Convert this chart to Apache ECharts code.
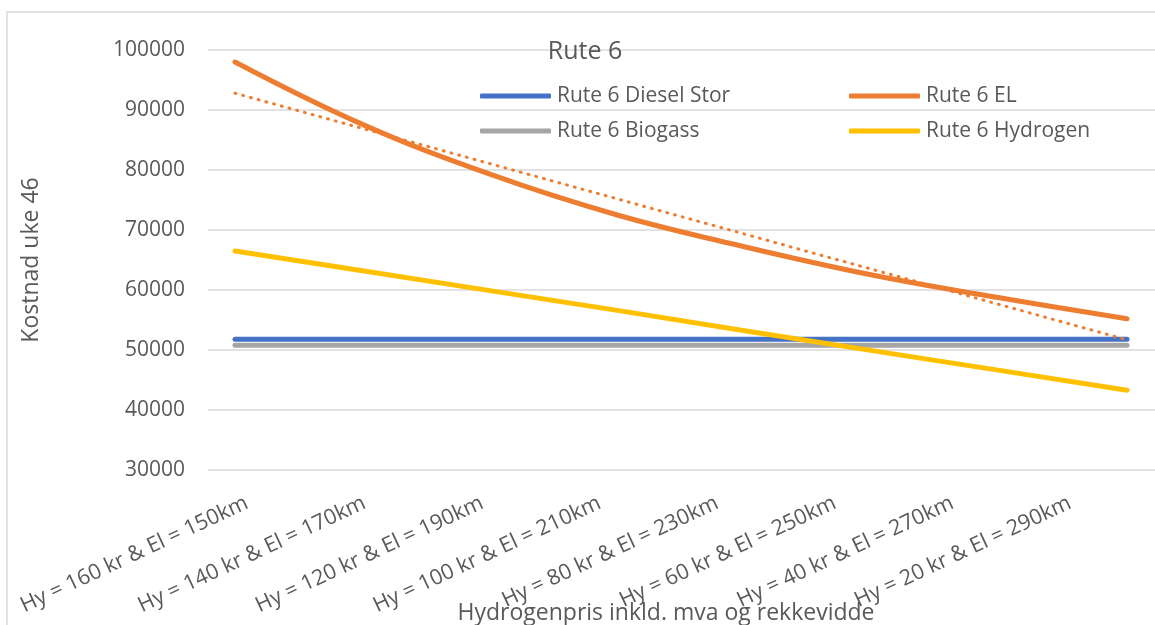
<!DOCTYPE html>
<html>
<head>
<meta charset="utf-8">
<script src="https://cdn.jsdelivr.net/npm/echarts@6/dist/echarts.min.js"></script>
<style>
  html, body { margin: 0; padding: 0; background: #ffffff; }
  #chart { width: 1155px; height: 625px; }
</style>
</head>
<body>
<div id="chart"></div>
<script>
// Scenario labels along the category axis
const categories = [
  'Hy = 160 kr & El = 150km',
  'Hy = 140 kr & El = 170km',
  'Hy = 120 kr & El = 190km',
  'Hy = 100 kr & El = 210km',
  'Hy = 80 kr & El = 230km',
  'Hy = 60 kr & El = 250km',
  'Hy = 40 kr & El = 270km',
  'Hy = 20 kr & El = 290km'
];

// Weekly cost per scenario (week 46)
const dieselStor = [51800, 51800, 51800, 51800, 51800, 51800, 51800, 51800];
const el         = [98000, 87600, 79300, 72500, 67200, 62500, 58700, 55200];
const biogass    = [50800, 50800, 50800, 50800, 50800, 50800, 50800, 50800];
const hydrogen   = [66500, 63200, 59900, 56600, 53200, 49900, 46600, 43300];
// Linear trend for EL, drawn between its two end values
const elTrend    = [92800, null, null, null, null, null, null, 51700];

// Value axis ticks
const yMin = 30000;
const yMax = 100000;
const yStep = 10000;

const seriesNames = ['Rute 6 Diesel Stor', 'Rute 6 EL', 'Rute 6 Biogass', 'Rute 6 Hydrogen'];
const colors = { diesel: '#4472C4', el: '#ED7D31', biogass: '#A5A5A5', hydrogen: '#FFC000' };

const FONT = 'Open Sans';
const TXT = '#595959';
const GRID_TOP = 50, GRID_BOTTOM = 155;

const chart = echarts.init(document.getElementById('chart'), null, { renderer: 'canvas' });

function legendItem(name, left, top) {
  return {
    data: [name],
    left: left, top: top,
    orient: 'horizontal',
    padding: 0,
    icon: 'roundRect',
    itemWidth: 71, itemHeight: 5, itemGap: 0,
    selectedMode: false,
    textStyle: { fontFamily: FONT, fontSize: 21, color: TXT, padding: [0, 0, 0, 1], lineHeight: 26 }
  };
}

function lineSeries(name, data, color, extra) {
  return Object.assign({
    name: name,
    type: 'line',
    xAxisIndex: 1, yAxisIndex: 1,
    data: data,
    symbol: 'none',
    lineStyle: { color: color, width: 5, cap: 'round', join: 'round' },
    itemStyle: { color: color }
  }, extra || {});
}

chart.setOption({
  animation: false,
  backgroundColor: '#ffffff',
  textStyle: { fontFamily: FONT },
  title: {
    text: 'Rute 6',
    left: 585, top: 52,
    textAlign: 'center', textVerticalAlign: 'middle',
    padding: 0,
    textStyle: { fontFamily: FONT, fontSize: 25, fontWeight: 'normal', color: TXT }
  },
  legend: [
    legendItem(seriesNames[0], 480, 83),
    legendItem(seriesNames[1], 849, 83),
    legendItem(seriesNames[2], 480, 118),
    legendItem(seriesNames[3], 849, 118)
  ],
  grid: [
    // gridlines and value labels
    { left: 208, right: 0, top: GRID_TOP, bottom: GRID_BOTTOM },
    // plotted lines
    { left: 235, right: 28, top: GRID_TOP, bottom: GRID_BOTTOM },
    // category labels
    { left: 247, right: 85, top: GRID_TOP, bottom: GRID_BOTTOM }
  ],
  xAxis: [
    { type: 'category', gridIndex: 0, data: categories, show: false },
    { type: 'category', gridIndex: 1, data: categories, boundaryGap: false, show: false },
    {
      type: 'category', gridIndex: 2, data: categories, boundaryGap: false,
      axisLine: { show: false }, axisTick: { show: false }, splitLine: { show: false },
      axisLabel: {
        rotate: 25, margin: 32, interval: 0,
        fontFamily: FONT, fontSize: 21.5, color: TXT
      }
    }
  ],
  yAxis: [
    {
      type: 'value', gridIndex: 0,
      min: yMin, max: yMax, interval: yStep,
      axisLine: { show: false }, axisTick: { show: false },
      splitLine: { show: true, lineStyle: { color: '#d9d9d9', width: 1.5 } },
      axisLabel: { margin: 23, fontFamily: FONT, fontSize: 21, color: TXT, formatter: (v) => String(v) },
      name: 'Kostnad uke 46',
      nameLocation: 'middle', nameRotate: 90, nameGap: 165,
      nameTextStyle: { fontFamily: FONT, fontSize: 23, color: TXT }
    },
    { type: 'value', gridIndex: 1, min: yMin, max: yMax, interval: yStep, show: false, splitLine: { show: false } },
    { type: 'value', gridIndex: 2, min: yMin, max: yMax, interval: yStep, show: false, splitLine: { show: false } }
  ],
  graphic: [
    {
      type: 'rect', silent: true, z: -1,
      shape: { x: 7, y: 12, width: 1300, height: 800 },
      style: { fill: 'none', stroke: '#d9d9d9', lineWidth: 1.5 }
    },
    {
      type: 'text', silent: true,
      style: {
        text: 'Hydrogenpris inkld. mva og rekkevidde',
        x: 666, y: 613, textAlign: 'center', textVerticalAlign: 'middle',
        font: '23px "Open Sans"', fill: TXT
      }
    }
  ],
  series: [
    lineSeries(seriesNames[0], dieselStor, colors.diesel),
    lineSeries(seriesNames[1], el, colors.el, { smooth: 0.4 }),
    lineSeries(seriesNames[2], biogass, colors.biogass, { z: 1 }),
    lineSeries(seriesNames[3], hydrogen, colors.hydrogen),
    {
      name: 'Lineær (Rute 6 EL)',
      type: 'line',
      xAxisIndex: 1, yAxisIndex: 1,
      data: elTrend,
      connectNulls: true,
      symbol: 'none',
      lineStyle: { color: colors.el, width: 3, type: [1, 7], cap: 'round' },
      z: 5
    }
  ]
});
</script>
</body>
</html>
